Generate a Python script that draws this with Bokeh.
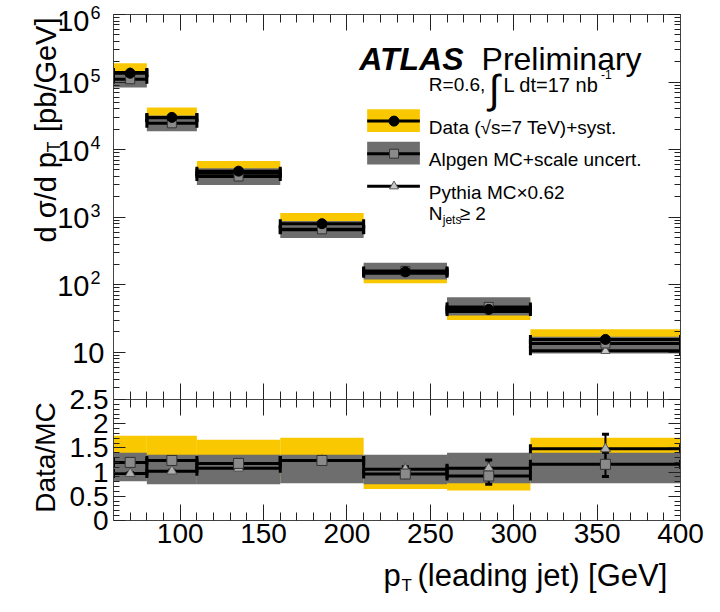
import numpy as np
from bokeh.plotting import figure
from bokeh.models import Range1d, LinearAxis, LogAxis, FixedTicker, Label, CustomJSTickFormatter
from bokeh.layouts import column, row
from bokeh.embed import file_html
from bokeh.resources import INLINE

# ---------------- data ----------------
bin_lo = [60, 80, 110, 160, 210, 260, 310]
bin_hi = [80, 110, 160, 210, 260, 310, 400]

data_xsec = [1.35e5, 3.0e4, 4.8e3, 8.0e2, 155.0, 43.0, 15.5]
data_stat = [1.5e3, 4.0e2, 60.0, 15.0, 4.0, 3.0, 2.5]
data_syst_lo = [9.5e4, 2.2e4, 3.4e3, 5.6e2, 105.0, 30.0, 11.0]
data_syst_hi = [1.9e5, 4.2e4, 6.8e3, 1.15e3, 200.0, 60.0, 22.0]

alpgen_xsec = [1.1e5, 2.45e4, 4.0e3, 6.6e2, 160.0, 47.0, 13.5]
alpgen_lo = [8.3e4, 1.87e4, 3.0e3, 4.9e2, 120.0, 35.0, 9.6]
alpgen_hi = [1.45e5, 3.2e4, 5.3e3, 8.8e2, 211.0, 65.0, 17.0]

pythia_xsec = [1.38e5, 2.95e4, 4.45e3, 6.5e2, 148.0, 40.0, 10.5]

ratio_alpgen = [1.20, 1.24, 1.18, 1.24, 0.96, 0.92, 1.16]
ratio_alpgen_err = [0.02, 0.02, 0.02, 0.03, 0.05, 0.17, 0.25]
ratio_pythia = [0.97, 1.02, 1.08, 1.24, 1.06, 1.08, 1.48]
ratio_pythia_err = [0.02, 0.02, 0.02, 0.03, 0.05, 0.17, 0.30]
ratio_syst_lo = [0.90, 0.90, 0.90, 0.90, 0.65, 0.62, 1.20]
ratio_syst_hi = [1.75, 1.75, 1.67, 1.71, 1.30, 1.30, 1.71]
ratio_mc_lo = [0.81, 0.75, 0.75, 0.77, 0.75, 0.77, 0.77]
ratio_mc_hi = [1.40, 1.36, 1.36, 1.36, 1.36, 1.40, 1.40]

x_ticks = [100, 150, 200, 250, 300, 350, 400]
x_minor_ticks = [70, 80, 90, 110, 120, 130, 140, 160, 170, 180, 190, 210, 220, 230, 240,
                 260, 270, 280, 290, 310, 320, 330, 340, 360, 370, 380, 390]
y_exponents = [1, 2, 3, 4, 5, 6]
ratio_ticks = [0, 0.5, 1, 1.5, 2, 2.5]
ratio_tick_labels = ["0", "0.5", "1", "1.5", "2", "2.5"]

legend_texts = ["Data (\u221as=7 TeV)+syst.", "Alpgen MC+scale uncert.", "Pythia MC\u00d70.62"]

# ---------------- style / layout ----------------
YELLOW = "#F9C800"
GREY = "#6E6E6E"
FONT = "Liberation Sans"

XMIN, XMAX = 60.0, 400.0
YMIN, YMAX = 2.0, 1e6
RMIN, RMAX = 0.0, 2.5

W, H = 704, 596
GUT = 110                      # left gutter for y tick labels and titles
FRAME_L, FRAME_R = 113, 680    # frame edges (page px)
TOP_T, TOP_B = 14, 399         # upper panel frame
RAT_B = 520                    # ratio panel frame bottom
RAT_H = 558                    # bottom of ratio figure
MAIN_W = W - GUT

centers = [(a + b) / 2 for a, b in zip(bin_lo, bin_hi)]

# reference-geometry helpers for in-frame annotations (legend, ATLAS label)
RFX0, RFX1, RTY0, RTY1 = 115.0, 685.0, 19.0, 409.0


def tx(px):
    return XMIN + (px - RFX0) * (XMAX - XMIN) / (RFX1 - RFX0)


def ty(py):
    lmin, lmax = np.log10(YMIN), np.log10(YMAX)
    return 10 ** (lmax - (py - RTY0) * (lmax - lmin) / (RTY1 - RTY0))


def style_axis(ax, major, minor, labels=False, size="28px", standoff=5):
    ax.major_tick_in = major
    ax.major_tick_out = 0
    ax.minor_tick_in = minor
    ax.minor_tick_out = 0
    ax.axis_line_color = "#444444"
    ax.major_tick_line_color = "#222222"
    ax.minor_tick_line_color = "#222222"
    if labels:
        ax.major_label_text_font = FONT
        ax.major_label_text_font_size = size
        ax.major_label_text_color = "black"
        ax.major_label_standoff = standoff
    else:
        ax.formatter = CustomJSTickFormatter(code="return ''")
        ax.major_label_text_font_size = "0px"
        ax.major_label_standoff = 0


def lab(fig, x, y, text, size, align="left", baseline="alphabetic", angle=0.0, style="normal"):
    fig.add_layout(Label(x=x, y=y, text=text, text_font=FONT, text_font_size=f"{size}px",
                         text_align=align, text_baseline=baseline, angle=angle,
                         text_font_style=style, text_color="black"))


def hbars(fig, vals, width=3):
    fig.segment(x0=bin_lo, x1=bin_hi, y0=vals, y1=vals, line_color="black", line_width=width)
    for edge in (bin_lo, bin_hi):
        fig.rect(x=edge, y=vals, width=3, height=9, width_units="screen", height_units="screen",
                 fill_color="black", line_color=None)


def vbars(fig, vals, errs):
    lo = [v - e for v, e in zip(vals, errs)]
    hi = [v + e for v, e in zip(vals, errs)]
    fig.segment(x0=centers, x1=centers, y0=lo, y1=hi, line_color="black", line_width=2)
    for end in (lo, hi):
        fig.rect(x=centers, y=end, width=7, height=3, width_units="screen", height_units="screen",
                 fill_color="black", line_color=None)


def text_canvas(w, h):
    f = figure(width=w, height=h, x_range=Range1d(0, w), y_range=Range1d(h, 0),
               x_axis_location=None, y_axis_location=None, output_backend="svg",
               toolbar_location=None, min_border=0)
    f.grid.visible = False
    f.outline_line_color = None
    return f


# ---------------- upper panel ----------------
top = figure(width=MAIN_W, height=TOP_B, x_range=Range1d(XMIN, XMAX), y_range=Range1d(YMIN, YMAX),
             y_axis_type="log", x_axis_location=None, y_axis_location=None,
             output_backend="svg", toolbar_location=None,
             min_border_left=FRAME_L - GUT, min_border_right=W - FRAME_R,
             min_border_top=TOP_T, min_border_bottom=0)
top.grid.visible = False
top.outline_line_color = None

log_major = [10.0 ** e for e in y_exponents]
log_minor = [m * 10.0 ** e for e in range(0, 6) for m in range(2, 10) if m * 10.0 ** e >= YMIN]
for loc in ("left", "right"):
    ax = LogAxis(ticker=FixedTicker(ticks=log_major, minor_ticks=log_minor))
    style_axis(ax, 12, 6)
    top.add_layout(ax, loc)
for loc in ("above", "below"):
    ax = LinearAxis(ticker=FixedTicker(ticks=x_ticks, minor_ticks=x_minor_ticks))
    style_axis(ax, 16, 8)
    top.add_layout(ax, loc)

top.quad(left=bin_lo, right=bin_hi, bottom=data_syst_lo, top=data_syst_hi, fill_color=YELLOW, line_color=None)
top.quad(left=bin_lo, right=bin_hi, bottom=alpgen_lo, top=alpgen_hi, fill_color=GREY, line_color=None)
hbars(top, alpgen_xsec)
hbars(top, pythia_xsec)
hbars(top, data_xsec)
vbars_lo = [v - e for v, e in zip(data_xsec, data_stat)]
vbars_hi = [v + e for v, e in zip(data_xsec, data_stat)]
top.segment(x0=centers, x1=centers, y0=vbars_lo, y1=vbars_hi, line_color="black", line_width=2)
top.scatter(x=centers, y=pythia_xsec, marker="triangle", size=9, fill_color="#c8c8c8", line_color="#555555")
top.scatter(x=centers, y=alpgen_xsec, marker="square", size=9, fill_color="#8a8a8a", line_color="#333333")
top.scatter(x=centers, y=data_xsec, marker="circle", size=10, fill_color="black", line_color="black")

# ATLAS label
lab(top, tx(362), ty(64), "ATLAS", 32, style="bold italic")
lab(top, tx(485), ty(64), "Preliminary", 32)
lab(top, tx(432), ty(90), "R=0.6,", 19)
lab(top, tx(492), ty(94), "\u222b", 40)
lab(top, tx(507), ty(90), "L dt=17 nb", 20)
lab(top, tx(605), ty(80), "-1", 12)

# legend
sw_l, sw_r, sw_c = tx(370), tx(423), tx(397)
top.quad(left=[sw_l], right=[sw_r], bottom=[ty(138)], top=[ty(115)], fill_color=YELLOW, line_color=None)
top.segment(x0=[sw_l], x1=[sw_r], y0=[ty(127)], y1=[ty(127)], line_color="black", line_width=3)
top.scatter(x=[sw_c], y=[ty(127)], marker="circle", size=10, fill_color="black", line_color="black")
top.quad(left=[sw_l], right=[sw_r], bottom=[ty(171)], top=[ty(148)], fill_color=GREY, line_color=None)
top.segment(x0=[sw_l], x1=[sw_r], y0=[ty(160)], y1=[ty(160)], line_color="black", line_width=3)
top.scatter(x=[sw_c], y=[ty(160)], marker="square", size=9, fill_color="#8a8a8a", line_color="#333333")
top.segment(x0=[sw_l], x1=[sw_r], y0=[ty(193)], y1=[ty(193)], line_color="black", line_width=3)
top.scatter(x=[sw_c], y=[ty(193)], marker="triangle", size=9, fill_color="#c8c8c8", line_color="#555555")
for txt, base in zip(legend_texts, [133, 166, 199]):
    lab(top, tx(432), ty(base), txt, 19)
lab(top, tx(432), ty(221), "N", 19)
lab(top, tx(446), ty(227), "jets", 12)
lab(top, tx(463), ty(221), "\u2265 2", 19)

# ---------------- ratio panel ----------------
rat = figure(width=MAIN_W, height=RAT_H - TOP_B, x_range=top.x_range, y_range=Range1d(RMIN, RMAX),
             x_axis_location=None, y_axis_location=None,
             output_backend="svg", toolbar_location=None,
             min_border_left=FRAME_L - GUT, min_border_right=W - FRAME_R,
             min_border_top=0, min_border_bottom=RAT_H - RAT_B)
rat.grid.visible = False
rat.outline_line_color = None

r_minor = [round(0.1 * k, 1) for k in range(0, 26) if k % 5 != 0]
for loc in ("left", "right"):
    ax = LinearAxis(ticker=FixedTicker(ticks=ratio_ticks, minor_ticks=r_minor))
    style_axis(ax, 12, 6)
    rat.add_layout(ax, loc)
ax = LinearAxis(ticker=FixedTicker(ticks=x_ticks, minor_ticks=x_minor_ticks))
style_axis(ax, 16, 8, labels=True, size="28px", standoff=3)
rat.add_layout(ax, "below")
ax = LinearAxis(ticker=FixedTicker(ticks=x_ticks, minor_ticks=x_minor_ticks))
style_axis(ax, 16, 8)
rat.add_layout(ax, "above")

rat.quad(left=bin_lo, right=bin_hi, bottom=ratio_syst_lo, top=ratio_syst_hi, fill_color=YELLOW, line_color=None)
rat.quad(left=bin_lo, right=bin_hi, bottom=ratio_mc_lo, top=ratio_mc_hi, fill_color=GREY, line_color=None)
hbars(rat, ratio_alpgen)
hbars(rat, ratio_pythia)
vbars(rat, ratio_alpgen, ratio_alpgen_err)
vbars(rat, ratio_pythia, ratio_pythia_err)
rat.scatter(x=centers, y=ratio_pythia, marker="triangle", size=10, fill_color="#b0b0b0", line_color="#555555")
rat.scatter(x=centers, y=ratio_alpgen, marker="square", size=10, fill_color="#8a8a8a", line_color="#333333")

# ---------------- left gutter: y tick labels and y titles ----------------
gut = text_canvas(GUT, RAT_H)
decade_px = (TOP_B - TOP_T) / (np.log10(YMAX) - np.log10(YMIN))
for e in y_exponents:
    py = TOP_T + (np.log10(YMAX) - e) * decade_px
    cy = max(py + 1, 20)
    if e == 1:
        lab(gut, 104, cy, "10", 29, align="right", baseline="middle")
    else:
        lab(gut, 89, cy, "10", 29, align="right", baseline="middle")
        lab(gut, 90, cy - 8, str(e), 18, align="left", baseline="middle")
for v, t in zip(ratio_ticks, ratio_tick_labels):
    py = RAT_B - (v - RMIN) * (RAT_B - TOP_B) / (RMAX - RMIN)
    lab(gut, 108, py, t, 28, align="right", baseline="middle")

ang = np.pi / 2
lab(gut, 45, 242, "d \u03c3/d p", 29, angle=ang)
lab(gut, 53, 152, "T", 18, angle=ang)
lab(gut, 45, 17, "[pb/GeV]", 29, align="right", angle=ang)
lab(gut, 45, 457, "Data/MC", 28, align="center", angle=ang)

# ---------------- bottom strip: x title ----------------
xt = text_canvas(W, H - RAT_H)
lab(xt, 383, 17, "p", 31, baseline="middle")
lab(xt, 401, 27, "T", 17, baseline="middle")
lab(xt, 417, 17, "(leading jet) [GeV]", 31, baseline="middle")

layout = column(row(gut, column(top, rat)), xt)
open("out.html", "w").write(file_html(layout, INLINE))
